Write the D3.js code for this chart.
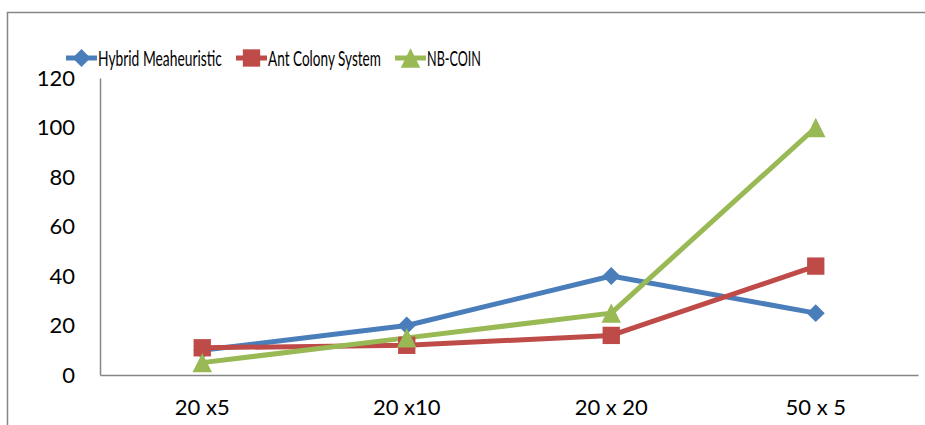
<!DOCTYPE html>
<html>
<head>
<meta charset="utf-8">
<script src="https://cdn.jsdelivr.net/npm/d3@7"></script>
<style>
  body { margin: 0; background: #fff; }
  svg text { font-family: Lato, "Open Sans", sans-serif; fill: #000; }
</style>
</head>
<body>
<div id="chart"></div>
<script>
var categories = ["20 x5", "20 x10", "20 x 20", "50 x 5"];
var seriesNames = ["Hybrid Meaheuristic", "Ant Colony System", "NB-COIN"];
var hybrid = [10, 20, 40, 25];
var antColony = [11, 12, 16, 44];
var nbCoin = [5, 15, 25, 100];
var yTicks = [0, 20, 40, 60, 80, 100, 120];

var colors = ["#4a7ebb", "#be4b48", "#98b954"];
var series = [hybrid, antColony, nbCoin];

// excel-like triangle: as tall as it is wide, centred on its box
var triangle = {
  draw: function(context, size) {
    var h = Math.sqrt(size) / 2;
    context.moveTo(0, -h);
    context.lineTo(h, h);
    context.lineTo(-h, h);
    context.closePath();
  }
};
var shapes = [d3.symbolDiamond2, d3.symbolSquare, triangle];
var sizes = [206, 300, 380];

var W = 925, H = 425;
var margin = {top: 78, right: 7, bottom: 50, left: 100},
    width = W - margin.left - margin.right,
    height = H - margin.top - margin.bottom;

var svg = d3.select("#chart").append("svg")
    .attr("width", W)
    .attr("height", H);

// outer frame (cut off at right/bottom like the picture)
svg.append("rect")
    .attr("x", 7.5).attr("y", 12.5)
    .attr("width", W).attr("height", H)
    .attr("fill", "none")
    .attr("stroke", "#868686")
    .attr("stroke-width", 1.5);

var g = svg.append("g")
    .attr("transform", "translate(" + margin.left + "," + margin.top + ")");

var x = d3.scaleBand().domain(categories).range([0, width]);
var y = d3.scaleLinear().domain([0, 120]).range([height, 0]);

// y axis
var yAxis = g.append("g")
    .call(d3.axisLeft(y).tickValues(yTicks).tickSize(0).tickPadding(25));
yAxis.select(".domain").attr("stroke", "#868686").attr("stroke-width", 1.5);
yAxis.selectAll("text").style("font-size", "22px");

// x axis
var xAxis = g.append("g")
    .attr("transform", "translate(0," + height + ")")
    .call(d3.axisBottom(x).tickSize(0).tickPadding(24));
xAxis.select(".domain").attr("stroke", "#868686").attr("stroke-width", 1.5);
xAxis.selectAll("text").style("font-size", "22px");

var line = d3.line()
    .x(function(d, i) { return x(categories[i]) + x.bandwidth() / 2; })
    .y(function(d) { return y(d); });

series.forEach(function(s, k) {
  g.append("path")
      .datum(s)
      .attr("fill", "none")
      .attr("stroke", colors[k])
      .attr("stroke-width", 5)
      .attr("stroke-linejoin", "round")
      .attr("d", line);
});

series.forEach(function(s, k) {
  g.selectAll(".m" + k)
    .data(s)
    .enter().append("path")
      .attr("class", "m" + k)
      .attr("transform", function(d, i) {
        return "translate(" + (x(categories[i]) + x.bandwidth() / 2) + "," + y(d) + ")";
      })
      .attr("d", d3.symbol().type(shapes[k]).size(sizes[k]))
      .attr("fill", colors[k]);
});

// legend - text squeezed horizontally to get the narrow look of the original font
var legendX = [66, 236, 395];
var legendLen = [124, 113, 54];
var legend = svg.append("g").attr("transform", "translate(0,58)");
seriesNames.forEach(function(name, k) {
  var lg = legend.append("g").attr("transform", "translate(" + legendX[k] + ",0)");
  lg.append("line")
      .attr("x1", 0).attr("x2", 31)
      .attr("stroke", colors[k]).attr("stroke-width", 5);
  lg.append("path")
      .attr("transform", "translate(15.5,0)")
      .attr("d", d3.symbol().type(shapes[k]).size(sizes[k]))
      .attr("fill", colors[k]);
  var t = lg.append("text")
      .attr("dy", "0.35em")
      .style("font-size", "22px")
      .text(name);
  var sx = legendLen[k] / t.node().getComputedTextLength();
  t.attr("transform", "translate(32,0) scale(" + sx + ",1)");
});
</script>
</body>
</html>
